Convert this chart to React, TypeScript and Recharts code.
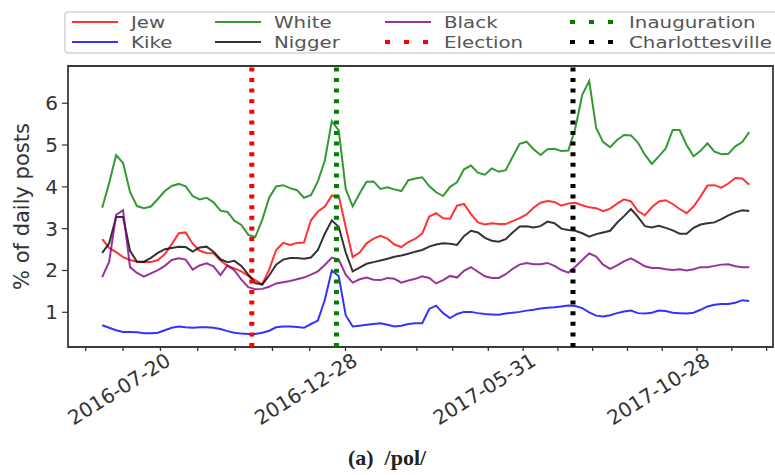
import { LineChart, Line, XAxis, YAxis, ReferenceLine, ReferenceArea } from 'recharts';

// share of daily /pol/ posts (%) containing each term, sampled every 6 days from 2016-07-02
const ORIGIN = '2016-07-01';
const FIRST_DAY = 1;
const STEP_DAYS = 6;

const pctRed = [
  2.75, 2.54, 2.44, 2.32, 2.25, 2.21, 2.2, 2.2, 2.25, 2.39,
  2.63, 2.89, 2.91, 2.64, 2.47, 2.42, 2.41, 2.24, 2.11, 2.05,
  1.98, 1.87, 1.77, 1.67, 2.02, 2.49, 2.66, 2.61, 2.66, 2.67,
  3.2, 3.41, 3.53, 3.79, 3.78, 3.04, 2.32, 2.43, 2.65, 2.76,
  2.83, 2.76, 2.62, 2.56, 2.68, 2.76, 2.88, 3.29, 3.37, 3.25,
  3.24, 3.55, 3.59, 3.35, 3.15, 3.1, 3.13, 3.11, 3.11, 3.18,
  3.25, 3.34, 3.5, 3.62, 3.66, 3.64, 3.55, 3.6, 3.62, 3.56,
  3.51, 3.49, 3.42, 3.48, 3.6, 3.7, 3.65, 3.42, 3.32, 3.51,
  3.65, 3.68, 3.59, 3.47, 3.37, 3.53, 3.77, 4.03, 4.04, 3.98,
  4.08, 4.21, 4.2, 4.05,
];

const pctBlue = [
  0.69, 0.63, 0.57, 0.53, 0.53, 0.52, 0.5, 0.5, 0.51, 0.57,
  0.63, 0.66, 0.64, 0.63, 0.64, 0.64, 0.63, 0.6, 0.55, 0.51,
  0.49, 0.48, 0.48, 0.51, 0.56, 0.64, 0.66, 0.66, 0.65, 0.63,
  0.72, 0.8, 1.3, 2.0, 1.86, 0.93, 0.66, 0.68, 0.7, 0.72,
  0.74, 0.7, 0.66, 0.68, 0.72, 0.74, 0.74, 1.08, 1.16, 0.98,
  0.86, 0.96, 1.01, 1.01, 0.98, 0.96, 0.95, 0.94, 0.97, 0.99,
  1.01, 1.04, 1.06, 1.09, 1.11, 1.12, 1.14, 1.16, 1.15, 1.1,
  1.0, 0.92, 0.9, 0.93, 0.98, 1.02, 1.04, 0.98, 0.97, 0.99,
  1.04, 1.03, 0.99, 0.98, 0.97, 0.99, 1.06, 1.14, 1.18, 1.2,
  1.2, 1.23, 1.29, 1.27,
];

const pctGreen = [
  3.5, 4.09, 4.76, 4.57, 3.88, 3.54, 3.49, 3.53, 3.71, 3.9,
  4.02, 4.07, 4.01, 3.78, 3.7, 3.74, 3.63, 3.43, 3.4, 3.19,
  3.09, 2.85, 2.8, 3.21, 3.74, 4.01, 4.04, 3.97, 3.92, 3.74,
  3.8, 4.13, 4.63, 5.57, 5.35, 3.95, 3.53, 3.84, 4.12, 4.13,
  3.95, 3.99, 3.94, 3.9, 4.16, 4.2, 4.23, 4.02, 3.87, 3.78,
  4.0, 4.11, 4.42, 4.51, 4.34, 4.29, 4.44, 4.36, 4.4, 4.72,
  5.03, 5.08, 4.9, 4.76, 4.9, 4.91, 4.86, 4.87, 5.4, 6.2,
  6.53, 5.41, 5.07, 4.95, 5.12, 5.24, 5.23, 5.06, 4.77, 4.55,
  4.73, 4.92, 5.36, 5.36, 5.0, 4.73, 4.86, 5.04, 4.84, 4.78,
  4.79, 4.97, 5.07, 5.31,
];

const pctBlack = [
  2.42, 2.65, 3.28, 3.28, 2.47, 2.21, 2.21, 2.3, 2.42, 2.51,
  2.54, 2.57, 2.56, 2.45, 2.55, 2.57, 2.45, 2.27, 2.2, 2.23,
  2.11, 1.9, 1.7, 1.66, 1.88, 2.14, 2.26, 2.3, 2.3, 2.28,
  2.31, 2.49, 2.88, 3.2, 3.04, 2.43, 1.98, 2.07, 2.16, 2.2,
  2.24, 2.28, 2.33, 2.36, 2.4, 2.45, 2.49, 2.57, 2.62, 2.65,
  2.64, 2.61, 2.82, 2.95, 2.91, 2.78, 2.71, 2.69, 2.75, 2.91,
  3.05, 3.06, 3.03, 3.06, 3.17, 3.13, 3.0, 2.97, 2.95, 2.89,
  2.81, 2.87, 2.91, 2.95, 3.14, 3.3, 3.47, 3.28, 3.06, 3.03,
  3.07, 3.02, 2.96, 2.88, 2.88, 3.02, 3.1, 3.13, 3.15, 3.23,
  3.32, 3.39, 3.44, 3.42,
];

const pctPurple = [
  1.84, 2.21, 3.33, 3.44, 2.08, 1.94, 1.85, 1.93, 2.01, 2.11,
  2.25, 2.29, 2.26, 2.02, 2.12, 2.17, 2.1, 1.89, 2.12, 2.0,
  1.78, 1.6, 1.55, 1.56, 1.61, 1.69, 1.72, 1.75, 1.79, 1.83,
  1.9, 1.98, 2.13, 2.31, 2.26, 1.9, 1.71, 1.79, 1.83, 1.78,
  1.77, 1.82, 1.8, 1.71, 1.76, 1.8, 1.86, 1.82, 1.69, 1.77,
  1.87, 1.83, 1.99, 2.08, 1.97, 1.86, 1.82, 1.82, 1.91, 2.04,
  2.14, 2.18, 2.15, 2.15, 2.18, 2.11, 2.01, 1.95, 2.09, 2.25,
  2.41, 2.33, 2.14, 2.04, 2.12, 2.22, 2.29, 2.2, 2.1, 2.06,
  2.06, 2.03, 2.01, 2.03, 2.0, 2.03, 2.08, 2.08, 2.11, 2.14,
  2.15, 2.1, 2.08, 2.08,
];

const TICK_DATES = ['2016-07-20', '2016-12-28', '2017-05-31', '2017-10-28'];
const Y_TICKS = [1, 2, 3, 4, 5, 6];

const SERIES = [
  { key: 'red', label: 'Jew', color: '#ff0000', values: pctRed },
  { key: 'blue', label: 'Kike', color: '#0000ff', values: pctBlue },
  { key: 'green', label: 'White', color: '#008000', values: pctGreen },
  { key: 'black', label: 'Nigger', color: '#000000', values: pctBlack },
  { key: 'purple', label: 'Black', color: '#800080', values: pctPurple },
];

const EVENTS = [
  { label: 'Election', date: '2016-11-08', color: '#ff0000' },
  { label: 'Inauguration', date: '2017-01-20', color: '#008000' },
  { label: 'Charlottesville', date: '2017-08-12', color: '#000000' },
];

// layout
const W = 775;
const H = 475;
const TOP = 66;
const Y_AXIS_W = 68;
const X_AXIS_H = 128;
const PLOT_BOTTOM = H - X_AXIS_H;
const X_DOMAIN: [number, number] = [-28.5, 579.5];
const Y_DOMAIN: [number, number] = [0.17, 6.89];
const FONT = '"DejaVu Sans", sans-serif';
const FS = 20;
const LEGEND_FS = 16;
const LEGEND_SX = 1.24; // legend text is squat in the original

const dayOf = (d: string) => Math.round((Date.parse(d) - Date.parse(ORIGIN)) / 86400000);

const rows = pctRed.map((_, i) => {
  const row: Record<string, number> = { day: FIRST_DAY + i * STEP_DAYS };
  SERIES.forEach((s) => { row[s.key] = s.values[i]; });
  return row;
});

const labelDays = TICK_DATES.map(dayOf);
const labelByDay = new Map(labelDays.map((d, i) => [d, TICK_DATES[i]]));

// minor ticks: five per labelled interval
const xTicks: number[] = [];
const firstStep = (labelDays[1] - labelDays[0]) / 5;
xTicks.push(labelDays[0] - firstStep);
labelDays.forEach((d, i) => {
  if (i === labelDays.length - 1) return;
  const step = (labelDays[i + 1] - d) / 5;
  for (let k = 0; k < 5; k++) xTicks.push(k === 0 ? d : d + step * k);
});
const lastDay = labelDays[labelDays.length - 1];
const lastStep = (lastDay - labelDays[labelDays.length - 2]) / 5;
for (let k = 0; k < 4; k++) xTicks.push(lastDay + lastStep * k);

function XTick({ x, payload }: any) {
  const label = labelByDay.get(payload.value);
  return (
    <g>
      <line x1={x} x2={x} y1={PLOT_BOTTOM} y2={PLOT_BOTTOM + 4} stroke="#333" strokeWidth={1.3} />
      {label && (
        <text
          transform={`translate(${x - 4},${PLOT_BOTTOM + 42}) rotate(-32)`}
          textAnchor="middle"
          dominantBaseline="central"
          fontSize={FS}
          fontFamily={FONT}
          fill="#333"
        >
          {label}
        </text>
      )}
    </g>
  );
}

function YTick({ y, payload }: any) {
  return (
    <g>
      <line x1={Y_AXIS_W - 6} x2={Y_AXIS_W} y1={y} y2={y} stroke="#333" strokeWidth={1.2} />
      <text
        x={Y_AXIS_W - 10}
        y={y}
        textAnchor="end"
        dominantBaseline="central"
        fontSize={FS}
        fontFamily={FONT}
        fill="#333"
      >
        {payload.value}
      </text>
    </g>
  );
}

function YLabel({ viewBox }: any) {
  const cy = viewBox ? viewBox.y + viewBox.height / 2 : 206;
  return (
    <text
      transform={`translate(22,${cy}) rotate(-90)`}
      textAnchor="middle"
      dominantBaseline="central"
      fontSize={21}
      fontFamily={FONT}
      fill="#333"
    >
      % of daily posts
    </text>
  );
}

const LEGEND_COLS = [72, 215, 385, 570];
const LEGEND_ROWS = [22, 42];
const legendItems = [
  ...SERIES.map((s) => ({ label: s.label, color: s.color, dotted: false })),
  ...EVENTS.map((e) => ({ label: e.label, color: e.color, dotted: true })),
];

function Overlay() {
  return (
    <svg width={W} height={H} style={{ position: 'absolute', left: 0, top: 0, pointerEvents: 'none' }}>
      <rect x={65} y={12} width={730} height={41} rx={3} fill="#fff" stroke="#d4d4d4" strokeWidth={1.5} />
      {legendItems.map((item, i) => {
        const x = LEGEND_COLS[Math.floor(i / 2)];
        const y = LEGEND_ROWS[i % 2];
        return (
          <g key={item.label}>
            {item.dotted ? (
              <line x1={x} x2={x + 46} y1={y} y2={y} stroke={item.color} strokeWidth={4} strokeDasharray="5 14" />
            ) : (
              <line x1={x} x2={x + 46} y1={y} y2={y} stroke={item.color} strokeOpacity={0.8} strokeWidth={2} />
            )}
            <text
              transform={`translate(${x + 59},${y}) scale(${LEGEND_SX},1)`}
              dominantBaseline="central"
              fontSize={LEGEND_FS}
              fontFamily={FONT}
              fill="#555"
            >
              {item.label}
            </text>
          </g>
        );
      })}
      <text x={387} y={465} textAnchor="middle" fontSize={22} fontWeight="bold" fontFamily='"Liberation Serif", serif' fill="#222">
        (a)&#160; /pol/
      </text>
    </svg>
  );
}

export default function App() {
  return (
    <div style={{ position: 'relative', width: W, height: H, background: '#fff' }}>
      <style>{'body { margin: 0; }'}</style>
      <LineChart width={W} height={H} data={rows} margin={{ top: TOP, right: 2, bottom: 0, left: 0 }}>
        <XAxis
          type="number"
          dataKey="day"
          domain={X_DOMAIN}
          ticks={xTicks}
          interval={0}
          tick={(p: any) => <XTick {...p} />}
          tickLine={false}
          axisLine={false}
          height={X_AXIS_H}
          allowDataOverflow
        />
        <YAxis
          type="number"
          domain={Y_DOMAIN}
          ticks={Y_TICKS}
          interval={0}
          tick={(p: any) => <YTick {...p} />}
          tickLine={false}
          axisLine={false}
          width={Y_AXIS_W}
          allowDataOverflow
          label={<YLabel />}
        />
        {SERIES.map((s) => (
          <Line
            key={s.key}
            type="linear"
            dataKey={s.key}
            stroke={s.color}
            strokeOpacity={0.8}
            strokeWidth={2}
            dot={false}
            isAnimationActive={false}
          />
        ))}
        {EVENTS.map((e) => (
          <ReferenceLine
            key={e.label}
            x={dayOf(e.date)}
            stroke={e.color}
            strokeWidth={5}
            strokeDasharray="4 6.6"
          />
        ))}
        <ReferenceArea
          x1={X_DOMAIN[0]}
          x2={X_DOMAIN[1]}
          y1={Y_DOMAIN[0]}
          y2={Y_DOMAIN[1]}
          fill="none"
          fillOpacity={0}
          stroke="#3a3a3a"
          strokeWidth={1.8}
        />
      </LineChart>
      <Overlay />
    </div>
  );
}
